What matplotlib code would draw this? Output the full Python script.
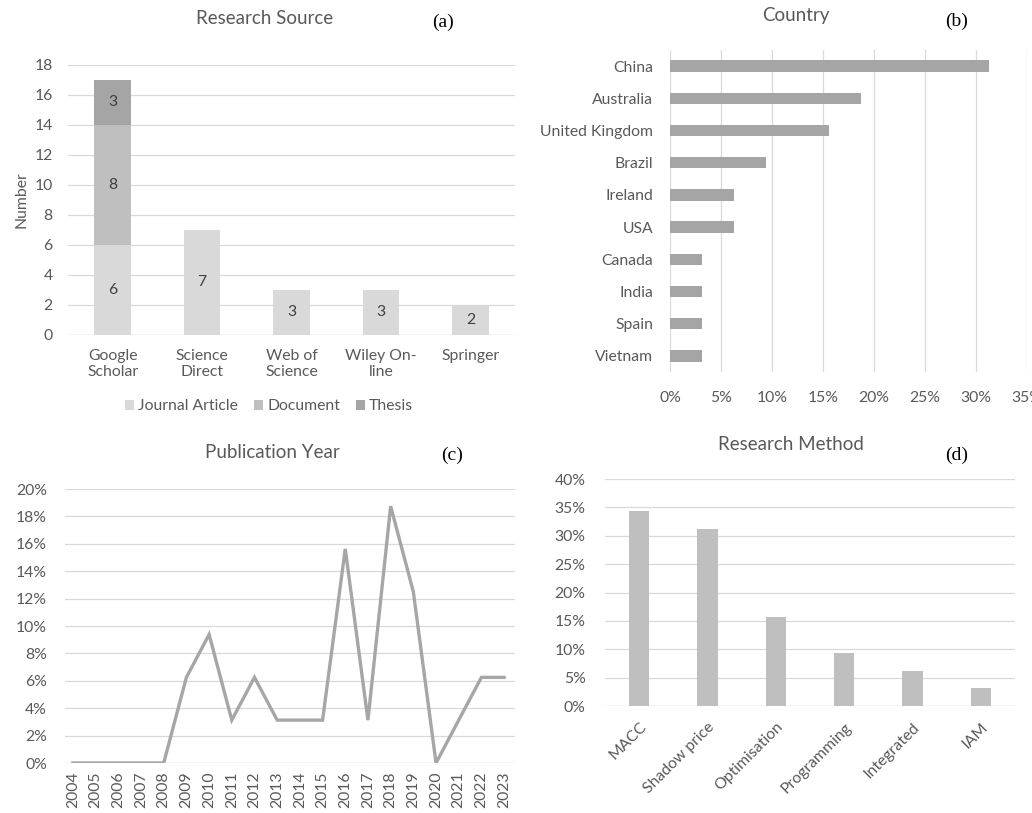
import matplotlib
matplotlib.use("Agg")
import matplotlib.pyplot as plt
import numpy as np
from matplotlib.ticker import FuncFormatter, MultipleLocator

plt.rcParams['font.family'] = ['Lato', 'DejaVu Sans']

# ---------------- data ----------------
sources = ["Google\nScholar", "Science\nDirect", "Web of\nScience", "Wiley On-\nline", "Springer"]
journal_article = [6, 7, 3, 3, 2]
document = [8, 0, 0, 0, 0]
thesis = [3, 0, 0, 0, 0]

countries = ["China", "Australia", "United Kingdom", "Brazil", "Ireland", "USA",
             "Canada", "India", "Spain", "Vietnam"]
country_share = [31.25, 18.75, 15.63, 9.38, 6.25, 6.25, 3.13, 3.13, 3.13, 3.13]

years = list(range(2004, 2024))
year_share = [0, 0, 0, 0, 0, 6.25, 9.38, 3.13, 6.25, 3.13, 3.13, 3.13,
              15.63, 3.13, 18.75, 12.5, 0, 3.13, 6.25, 6.25]

methods = ["MACC", "Shadow price", "Optimisation", "Programming", "Integrated", "IAM"]
method_share = [34.38, 31.25, 15.63, 9.38, 6.25, 3.13]

# ---------------- style ----------------
TXT = "#595959"
GRID = "#d9d9d9"
C_JA = "#d9d9d9"
C_DOC = "#bfbfbf"
C_TH = "#a5a5a5"
TICK_FS = 11.3
TITLE_FS = 13.5
TAG_FS = 14

fig = plt.figure(figsize=(10.32, 8.13), dpi=100)

def W(px): return px / 1032
def H(px): return px / 813

def style(ax):
    for s in ax.spines.values():
        s.set_visible(False)
    ax.tick_params(length=0, colors=TXT, labelsize=TICK_FS)
    ax.set_axisbelow(True)

pct = FuncFormatter(lambda v, p: f"{v:.0f}%")

# ---------------- (a) ----------------
axa = fig.add_axes([W(68), 1 - H(335), W(515 - 68), H(335 - 65)])
style(axa)
x = np.arange(len(sources))
bw = 0.41
b1 = axa.bar(x, journal_article, bw, color=C_JA, label="Journal Article")
b2 = axa.bar(x, document, bw, bottom=journal_article, color=C_DOC, label="Document")
bot3 = [a + b for a, b in zip(journal_article, document)]
b3 = axa.bar(x, thesis, bw, bottom=bot3, color=C_TH, label="Thesis")
for bars, vals, bots in [(b1, journal_article, [0]*5), (b2, document, journal_article), (b3, thesis, bot3)]:
    for rect, v, b in zip(bars, vals, bots):
        if v > 0:
            axa.text(rect.get_x() + rect.get_width() / 2, b + v / 2, str(v),
                     ha="center", va="center", color="#404040", fontsize=TICK_FS)
axa.set_ylim(0, 18)
axa.set_xlim(-0.5, len(sources) - 0.5)
axa.yaxis.set_major_locator(MultipleLocator(2))
axa.grid(axis="y", color=GRID, linewidth=0.9)
axa.set_xticks(x)
axa.set_xticklabels(sources, linespacing=1.15)
axa.tick_params(axis="x", pad=10)
axa.tick_params(axis="y", pad=11)
axa.set_ylabel("Number", color=TXT, fontsize=TICK_FS, labelpad=4)
axa.axhline(0, color=GRID, linewidth=0.9)
fig.text(W(265), 1 - H(18), "Research Source", ha="center", va="center", color=TXT, fontsize=TITLE_FS)
fig.text(W(443), 1 - H(22), "(a)", ha="center", va="center", color="black",
         fontsize=TAG_FS, family="Liberation Serif")
axa.legend(loc="upper center", bbox_to_anchor=(0.45, -0.215), ncol=3, frameon=False,
           fontsize=TICK_FS, handlelength=0.6, handleheight=0.6, handletextpad=0.25,
           columnspacing=1.0, labelcolor=TXT, borderaxespad=0)

# ---------------- (b) ----------------
axb = fig.add_axes([W(670), 1 - H(372), W(1027 - 670), H(372 - 50)])
style(axb)
yb = np.arange(len(countries))
axb.barh(yb, country_share, 0.35, color=C_TH)
axb.set_ylim(len(countries) - 0.5, -0.5)
axb.set_xlim(0, 35)
axb.xaxis.set_major_locator(MultipleLocator(5))
axb.xaxis.set_major_formatter(pct)
axb.grid(axis="x", color=GRID, linewidth=0.9)
axb.set_yticks(yb)
axb.set_yticklabels(countries)
axb.tick_params(axis="y", pad=12)
axb.tick_params(axis="x", pad=14)
fig.text(W(796), 1 - H(15), "Country", ha="center", va="center", color=TXT, fontsize=TITLE_FS)
fig.text(W(957), 1 - H(21), "(b)", ha="center", va="center", color="black",
         fontsize=TAG_FS, family="Liberation Serif")

# ---------------- (c) ----------------
axc = fig.add_axes([W(65), 1 - H(763), W(515 - 65), H(763 - 489)])
style(axc)
axc.plot(years, year_share, color="#a6a6a6", linewidth=2.4, solid_joinstyle="miter")
axc.set_ylim(0, 20)
axc.set_xlim(2003.65, 2023.48)
axc.yaxis.set_major_locator(MultipleLocator(2))
axc.yaxis.set_major_formatter(pct)
axc.grid(axis="y", color=GRID, linewidth=0.9)
axc.set_xticks(years)
axc.set_xticklabels([str(y) for y in years], rotation=90)
axc.tick_params(axis="x", pad=6)
axc.tick_params(axis="y", pad=13)
axc.axhline(0, color=GRID, linewidth=0.9, zorder=0)
fig.text(W(272), 1 - H(452), "Publication Year", ha="center", va="center", color=TXT, fontsize=TITLE_FS)
fig.text(W(452), 1 - H(455), "(c)", ha="center", va="center", color="black",
         fontsize=TAG_FS, family="Liberation Serif")

# ---------------- (d) ----------------
axd = fig.add_axes([W(605), 1 - H(706), W(1015 - 605), H(706 - 479)])
style(axd)
xd = np.arange(len(methods))
axd.bar(xd, method_share, 0.3, color=C_DOC)
axd.set_ylim(0, 40)
axd.set_xlim(-0.5, len(methods) - 0.5)
axd.yaxis.set_major_locator(MultipleLocator(5))
axd.yaxis.set_major_formatter(pct)
axd.grid(axis="y", color=GRID, linewidth=0.9)
axd.set_xticks(xd)
axd.set_xticklabels(methods, rotation=45, ha="right", rotation_mode="anchor")
axd.tick_params(axis="x", pad=10)
axd.tick_params(axis="y", pad=14)
axd.axhline(0, color=GRID, linewidth=0.9, zorder=0)
fig.text(W(791), 1 - H(444), "Research Method", ha="center", va="center", color=TXT, fontsize=TITLE_FS)
fig.text(W(957), 1 - H(455), "(d)", ha="center", va="center", color="black",
         fontsize=TAG_FS, family="Liberation Serif")

fig.savefig("out.png", dpi=100)
